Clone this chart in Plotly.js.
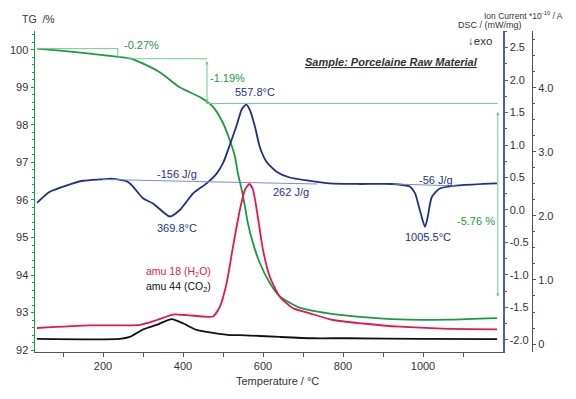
<!DOCTYPE html>
<html>
<head>
<meta charset="utf-8">
<script src="https://cdn.plot.ly/plotly-3.0.1.min.js"></script>
<style>html,body{margin:0;padding:0;background:#fff;}#chart{width:576px;height:399px;}</style>
</head>
<body>
<div id="chart"></div>
<script>
// ---- data ----
const tgT = [35, 100, 200, 267, 292, 342, 392, 442, 475, 500, 517, 530, 537, 547, 555, 562, 575, 592, 617, 642, 692, 767, 850, 942, 1067, 1185];
const tgV = [100.03, 99.97, 99.86, 99.77, 99.67, 99.40, 99.00, 98.74, 98.48, 98.05, 97.59, 97.15, 96.72, 96.26, 95.82, 95.39, 94.85, 94.32, 93.79, 93.43, 93.13, 92.97, 92.88, 92.82, 92.81, 92.85];

const dscT = [35, 67, 110, 150, 192, 225, 260, 275, 300, 325, 367, 392, 426, 459, 484, 500, 517, 534, 547, 558, 567, 580, 592, 609, 634, 667, 717, 767, 842, 925, 967, 980, 992, 1005, 1012, 1022, 1042, 1092, 1185];
const dscV = [0.11, 0.28, 0.38, 0.45, 0.47, 0.48, 0.44, 0.36, 0.18, 0.10, -0.10, 0.0, 0.26, 0.41, 0.56, 0.72, 1.0, 1.30, 1.55, 1.62, 1.54, 1.28, 0.97, 0.74, 0.59, 0.50, 0.45, 0.41, 0.40, 0.40, 0.36, 0.26, 0.0, -0.26, -0.10, 0.20, 0.33, 0.38, 0.41];

const h2oT = [35, 167, 292, 335, 375, 410, 450, 475, 492, 509, 525, 542, 555, 566, 575, 587, 600, 617, 642, 675, 717, 775, 850, 942, 1050, 1185];
const h2oV = [0.25, 0.29, 0.30, 0.375, 0.46, 0.45, 0.43, 0.43, 0.58, 0.95, 1.52, 2.09, 2.41, 2.50, 2.41, 1.99, 1.47, 1.05, 0.74, 0.56, 0.48, 0.375, 0.32, 0.27, 0.24, 0.23];

const co2T = [35, 242, 267, 301, 334, 372, 401, 434, 467, 517, 542, 642, 725, 810, 1000, 1185];
const co2V = [0.08, 0.08, 0.11, 0.23, 0.30, 0.39, 0.32, 0.22, 0.18, 0.14, 0.14, 0.11, 0.09, 0.09, 0.08, 0.075];

// TG step evaluation levels
const tgStepStart = 100.03, tgStep1 = 99.76, tgStep2 = 98.57;
// tick labels
const xTickVals = [200, 400, 600, 800, 1000];
const xMinorVals = [100, 300, 500, 700, 900, 1100];
const dscTickVals = [-2.0, -1.5, -1.0, -0.5, 0.0, 0.5, 1.0, 1.5, 2.0, 2.5];
const dscTickText = ['-2.0', '-1.5', '-1.0', '-0.5', '0.0', '0.5', '1.0', '1.5', '2.0', '2.5'];
const ionTickVals = [0, 1, 2, 3, 4];
const ionTickText = ['0', '1.0', '2.0', '3.0', '4.0'];

// ---- layout helpers (pixel -> paper) ----
const W = 576, H = 399, ML = 35, MR = 44, MT = 31, MB = 47;
const PW = W - ML - MR, PH = H - MT - MB;
const px = x => (x - ML) / PW;
const py = y => (H - MB - y) / PH;

const GREEN = '#1b9a3e', LGREEN = '#74c98e', BLUE = '#1e2f8c', LBLUE = '#7d8ccc', AXBLUE = '#4b5cb0', RED = '#e5174f', BLACK = '#111111', GREY = '#333333';
const FONT = 'Liberation Sans, Arial, sans-serif';

const traces = [
  {x: co2T, y: co2V, yaxis: 'y3', mode: 'lines', line: {color: BLACK, width: 1.8, shape: 'spline', smoothing: 0.6}},
  {x: h2oT, y: h2oV, yaxis: 'y3', mode: 'lines', line: {color: RED, width: 1.8, shape: 'spline', smoothing: 0.6}},
  {x: dscT, y: dscV, yaxis: 'y2', mode: 'lines', line: {color: BLUE, width: 1.8, shape: 'spline', smoothing: 0.6}},
  {x: tgT, y: tgV, yaxis: 'y', mode: 'lines', line: {color: GREEN, width: 1.8, shape: 'spline', smoothing: 0.6}}
];

const shapes = [
  {type: 'line', xref: 'x', yref: 'y', x0: 35, x1: 237, y0: tgStepStart, y1: tgStepStart, line: {color: LGREEN, width: 1}},
  {type: 'line', xref: 'x', yref: 'y', x0: 237, x1: 237, y0: tgStepStart, y1: 99.81, line: {color: LGREEN, width: 1}},
  {type: 'line', xref: 'x', yref: 'y', x0: 262, x1: 460, y0: tgStep1, y1: tgStep1, line: {color: LGREEN, width: 1}},
  {type: 'line', xref: 'x', yref: 'y', x0: 457, x1: 1187, y0: tgStep2, y1: tgStep2, line: {color: LGREEN, width: 1}},
  {type: 'line', xref: 'x', yref: 'y2', x0: 200, x1: 460, y0: 0.47, y1: 0.435, line: {color: LBLUE, width: 1}},
  {type: 'line', xref: 'x', yref: 'y2', x0: 460, x1: 735, y0: 0.435, y1: 0.40, line: {color: LBLUE, width: 1}},
  {type: 'line', xref: 'x', yref: 'y2', x0: 925, x1: 1085, y0: 0.40, y1: 0.37, line: {color: LBLUE, width: 1}}
];

function txt(x, y, text, color, size, xanchor, extra) {
  return Object.assign({xref: 'paper', yref: 'paper', x: px(x), y: py(y), text: text, showarrow: false,
    xanchor: xanchor || 'center', yanchor: 'middle', font: {family: FONT, size: size, color: color}}, extra || {});
}

const annotations = [
  // double-headed step arrows
  {xref: 'x', yref: 'y', axref: 'x', ayref: 'y', x: 460, y: tgStep2 + 0.02, ax: 460, ay: tgStep1 - 0.02, text: '', showarrow: true,
   arrowside: 'end+start', arrowhead: 2, arrowsize: 0.7, arrowwidth: 1, arrowcolor: LGREEN, standoff: 0, startstandoff: 0},
  {xref: 'x', yref: 'y', axref: 'x', ayref: 'y', x: 1187, y: 93.42, ax: 1187, ay: 98.39, text: '', showarrow: true,
   arrowside: 'end+start', arrowhead: 2, arrowsize: 0.7, arrowwidth: 1, arrowcolor: LGREEN, standoff: 0, startstandoff: 0},
  // texts
  txt(122, 45, '-0.27%', GREEN, 11, 'left'),
  txt(208, 78, '-1.19%', GREEN, 11, 'left'),
  txt(476, 221, '-5.76 %', GREEN, 11, 'center'),
  txt(255, 92, '557.8°C', BLUE, 11, 'center'),
  txt(177, 174, '-156 J/g', BLUE, 11, 'center'),
  txt(177, 228, '369.8°C', BLUE, 11, 'center'),
  txt(291, 192, '262 J/g', BLUE, 11, 'center'),
  txt(436, 180, '-56 J/g', BLUE, 11, 'center'),
  txt(428, 237, '1005.5°C', BLUE, 11, 'center'),
  txt(303, 62, '<b><i><u>Sample: Porcelaine Raw Material</u></i></b>', GREY, 11, 'left'),
  txt(213, 272, 'amu 18 (H<sub>2</sub>O)', RED, 10.5, 'right'),
  txt(213, 287, 'amu 44 (CO<sub>2</sub>)', BLACK, 10.5, 'right'),
  txt(20, 19, 'TG  /%', GREY, 10.5, 'left'),
  txt(565, 15, 'Ion Current *10<sup>-10</sup> / A', GREY, 8.5, 'right'),
  txt(524, 25, 'DSC / (mW/mg)', GREY, 9, 'right'),
  txt(494, 41, '↓exo', GREY, 11.5, 'right'),
  txt(277, 381, 'Temperature / °C', GREY, 11, 'center')
];

const layout = {
  width: W, height: H,
  margin: {l: ML, r: MR, t: MT, b: MB, pad: 0},
  paper_bgcolor: '#ffffff', plot_bgcolor: '#ffffff',
  showlegend: false,
  font: {family: FONT, size: 11, color: GREY},
  xaxis: {
    domain: [0, 468 / PW], range: [30, 1200], tickmode: 'array', tickvals: xTickVals,
    showline: true, linecolor: '#555', linewidth: 1, ticks: 'outside', ticklen: 4, tickcolor: '#555',
    minor: {tickmode: 'array', tickvals: xMinorVals, ticks: 'outside', ticklen: 4, tickcolor: '#555'},
    showgrid: false, zeroline: false, tickfont: {size: 11, color: GREY}
  },
  yaxis: {
    range: [91.95, 100.5], dtick: 1, tick0: 0,
    showline: true, linecolor: GREEN, linewidth: 1.5, ticks: 'outside', ticklen: 3, tickcolor: GREEN,
    minor: {dtick: 0.2, ticks: 'outside', ticklen: 2, tickcolor: GREEN},
    showgrid: false, zeroline: false, tickfont: {size: 11, color: GREY}
  },
  yaxis2: {
    overlaying: 'y', side: 'right', anchor: 'x', range: [-2.185, 2.754],
    tickmode: 'array', tickvals: dscTickVals, ticktext: dscTickText,
    showline: true, linecolor: AXBLUE, linewidth: 1.5, ticks: 'outside', ticklen: 3, tickcolor: AXBLUE,
    minor: {dtick: 0.25, ticks: 'outside', ticklen: 2, tickcolor: AXBLUE},
    showgrid: false, zeroline: false, tickfont: {size: 11, color: GREY}
  },
  yaxis3: {
    overlaying: 'y', side: 'right', anchor: 'free', position: 1, range: [-0.125, 4.89],
    tickmode: 'array', tickvals: ionTickVals, ticktext: ionTickText,
    showline: true, linecolor: '#555', linewidth: 1, ticks: 'outside', ticklen: 3, tickcolor: '#555',
    minor: {dtick: 0.25, ticks: 'outside', ticklen: 2, tickcolor: '#555'},
    showgrid: false, zeroline: false, tickfont: {size: 11, color: GREY}
  },
  shapes: shapes,
  annotations: annotations
};

Plotly.newPlot('chart', traces, layout, {displayModeBar: false, staticPlot: true});
</script>
</body>
</html>
